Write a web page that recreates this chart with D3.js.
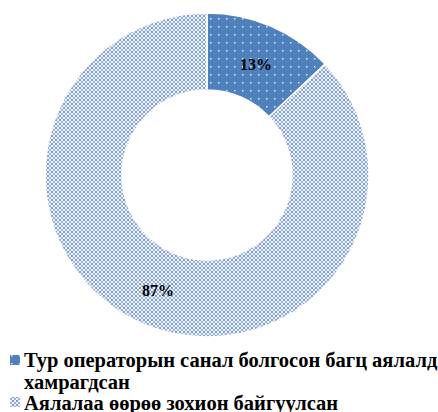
<!DOCTYPE html>
<html><head><meta charset="utf-8">
<script src="https://cdn.jsdelivr.net/npm/d3@7"></script>
<style>body{margin:0;background:#fff}</style></head>
<body><svg id="chart" width="438" height="412"></svg>
<script>
const categories = ["Тур операторын санал болгосон багц аялалд хамрагдсан", "Аялалаа өөрөө зохион байгуулсан"];
const values = [13, 87];
const labels = ["13%", "87%"];

const svg = d3.select("#chart");
const defs = svg.append("defs");
// solid blue with sparse white dots
let p1 = defs.append("pattern").attr("id", "p1").attr("width", 8).attr("height", 8).attr("patternUnits", "userSpaceOnUse");
p1.append("rect").attr("width", 8).attr("height", 8).attr("fill", "#4f81bd");
p1.append("rect").attr("x", 3).attr("y", 3).attr("width", 1.5).attr("height", 1.5).attr("fill", "#dde6f3");
// light checker
let p2 = defs.append("pattern").attr("id", "p2").attr("width", 4).attr("height", 4).attr("patternUnits", "userSpaceOnUse");
p2.append("rect").attr("width", 4).attr("height", 4).attr("fill", "#eef2f9");
p2.append("rect").attr("width", 2).attr("height", 2).attr("fill", "#7f9fd0");
p2.append("rect").attr("x", 2).attr("y", 2).attr("width", 2).attr("height", 2).attr("fill", "#9bb4de");

const cx = 207, cy = 175, R = 162, r = 85;
const pie = d3.pie().sort(null)(values);
const arc = d3.arc().innerRadius(r).outerRadius(R);
const g = svg.append("g").attr("transform", `translate(${cx},${cy})`);
g.selectAll("path").data(pie).join("path")
  .attr("d", arc).attr("fill", (d, i) => `url(#p${i + 1})`)
  .attr("stroke", "#fff").attr("stroke-width", 1.5);
const lab = d3.arc().innerRadius((r + R) / 2).outerRadius((r + R) / 2);
g.selectAll("text").data(pie).join("text")
  .attr("transform", d => `translate(${lab.centroid(d)})`)
  .attr("text-anchor", "middle").attr("dy", "0.5em")
  .attr("font-family", "Liberation Serif").attr("font-weight", "bold").attr("font-size", 16)
  .text((d, i) => labels[i]);

const leg = svg.append("g").attr("font-family", "Liberation Serif").attr("font-weight", "bold").attr("font-size", 20.5);
leg.append("rect").attr("x", 10).attr("y", 355).attr("width", 10).attr("height", 10).attr("fill", "url(#p1)");
leg.append("text").attr("x", 24).attr("y", 367).text("Тур операторын санал болгосон багц аялалд");
leg.append("text").attr("x", 24).attr("y", 389).text("хамрагдсан");
leg.append("rect").attr("x", 10).attr("y", 397).attr("width", 10).attr("height", 10).attr("fill", "url(#p2)");
leg.append("text").attr("x", 24).attr("y", 410).text(categories[1]);
</script></body></html>
